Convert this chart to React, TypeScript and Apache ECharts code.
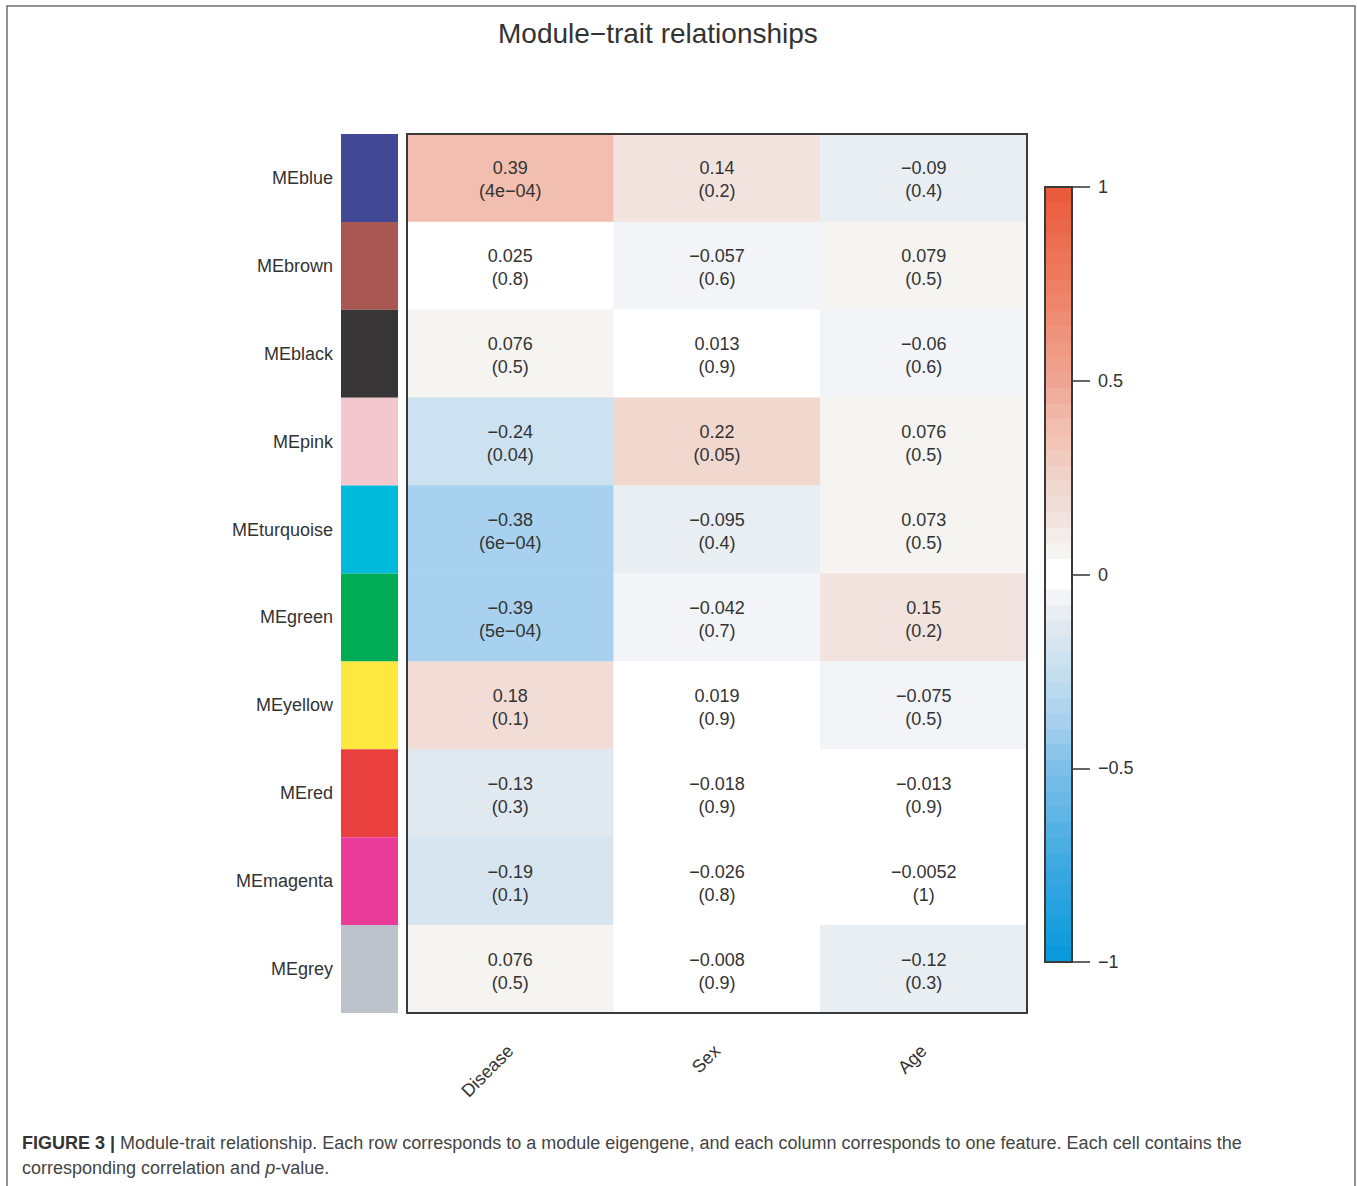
import React, { useEffect, useRef } from "react";
import * as echarts from "echarts";

// Module eigengenes (rows, top to bottom) and their module colours
const modules = ["MEblue", "MEbrown", "MEblack", "MEpink", "MEturquoise", "MEgreen", "MEyellow", "MEred", "MEmagenta", "MEgrey"];
const moduleColors = ["#414996", "#A85752", "#373536", "#F2C8CE", "#00BADB", "#00AC55", "#FDE83F", "#E9403F", "#E93B97", "#BEC2CA"];

// Traits (columns)
const traits = ["Disease", "Sex", "Age"];

// Correlation of each module eigengene with each trait
const corDisease = [0.39, 0.025, 0.076, -0.24, -0.38, -0.39, 0.18, -0.13, -0.19, 0.076];
const corSex = [0.14, -0.057, 0.013, 0.22, -0.095, -0.042, 0.019, -0.018, -0.026, -0.008];
const corAge = [-0.09, 0.079, -0.06, 0.076, 0.073, 0.15, -0.075, -0.013, -0.0052, -0.12];

// p-values, as printed
const pDisease = ["4e−04", "0.8", "0.5", "0.04", "6e−04", "5e−04", "0.1", "0.3", "0.1", "0.5"];
const pSex = ["0.2", "0.6", "0.9", "0.05", "0.4", "0.7", "0.9", "0.9", "0.8", "0.9"];
const pAge = ["0.4", "0.5", "0.6", "0.5", "0.5", "0.2", "0.5", "0.9", "1", "0.3"];

// Colour-key range and ticks
const scaleMin = -1;
const scaleMax = 1;
const scaleStep = 0.5;
const binCount = 50;

// Blue-white-red key: anchor colours by bin distance from zero (1 = nearest)
const negAnchors: [number, string][] = [
  [1, "#FFFFFF"], [2, "#F2F4F8"], [3, "#E8EEF2"], [4, "#E0E8F0"], [5, "#D6E5F0"],
  [6, "#CDE2F0"], [10, "#A7D1EF"], [13, "#7DBFEA"], [19, "#40AAE2"], [25, "#0A9ADB"],
];
const posAnchors: [number, string][] = [
  [1, "#FFFFFF"], [2, "#F5F4F0"], [3, "#F4ECE8"], [4, "#F2E3DF"], [5, "#F2DDD6"],
  [6, "#F1D8CF"], [10, "#F2BEAF"], [13, "#F0A593"], [19, "#EE8064"], [25, "#EA5B3B"],
];

const FONT = "'Liberation Sans', Arial, Helvetica, sans-serif";
const INK = "#333333";

function hexToRgb(h: string) {
  const n = parseInt(h.slice(1), 16);
  return [(n >> 16) & 255, (n >> 8) & 255, n & 255];
}

function rampColor(anchors: [number, string][], k: number) {
  for (let i = 0; i < anchors.length - 1; i++) {
    const [k0, c0] = anchors[i];
    const [k1, c1] = anchors[i + 1];
    if (k >= k0 && k <= k1) {
      const t = k1 === k0 ? 0 : (k - k0) / (k1 - k0);
      const a = hexToRgb(c0);
      const b = hexToRgb(c1);
      const m = a.map((v, j) => Math.round(v + (b[j] - v) * t));
      return `rgb(${m[0]},${m[1]},${m[2]})`;
    }
  }
  return anchors[anchors.length - 1][1];
}

const round2 = (v: number) => Math.round(v * 100) / 100;
const minus = (s: string) => s.replace(/-/g, "−");

function buildPieces() {
  const w = (scaleMax - scaleMin) / binCount;
  const pieces: any[] = [];
  for (let i = 0; i < binCount; i++) {
    const lo = round2(scaleMin + w * i);
    const hi = round2(lo + w);
    const color = lo < 0 ? rampColor(negAnchors, Math.round(-lo / w)) : rampColor(posAnchors, Math.round(hi / w));
    pieces.push(i < binCount - 1 ? { gte: lo, lt: hi, color } : { gte: lo, lte: hi, color });
  }
  return pieces;
}

export default function App() {
  const ref = useRef<HTMLDivElement>(null);

  useEffect(() => {
    if (!ref.current) return;
    const chart = echarts.init(ref.current, null, { renderer: "svg" });

    const cors = [corDisease, corSex, corAge];
    const ps = [pDisease, pSex, pAge];
    const cells: any[] = [];
    traits.forEach((_, x) => {
      modules.forEach((_, y) => {
        cells.push({ value: [x, y, cors[x][y]], p: ps[x][y] });
      });
    });

    const hm = { left: 407, top: 134, width: 620, height: 879 };
    const key = { left: 1045, top: 187, width: 27, height: 775 };
    // key swatches overlap by half a pixel so no seams show between them
    const overlap = 0.5;

    chart.setOption({
      animation: false,
      backgroundColor: "#ffffff",
      title: {
        text: "Module−trait relationships",
        left: 493,
        top: 14,
        textStyle: { fontFamily: FONT, fontSize: 28, fontWeight: "normal", color: INK },
      },
      grid: [
        { ...hm },
        { left: 341, top: hm.top, width: 57, height: hm.height },
        { ...key },
      ],
      xAxis: [
        {
          type: "category",
          gridIndex: 0,
          data: traits,
          axisLine: { show: false },
          axisTick: { show: false },
          splitLine: { show: false },
          axisLabel: { rotate: 45, margin: 35, fontSize: 18, fontFamily: FONT, color: INK },
        },
        { type: "value", gridIndex: 1, min: 0, max: 1, show: false },
        { type: "value", gridIndex: 2, min: 0, max: 1, show: false },
      ],
      yAxis: [
        { type: "category", gridIndex: 0, data: modules, inverse: true, show: false },
        {
          type: "category",
          gridIndex: 1,
          data: modules,
          inverse: true,
          axisLine: { show: false },
          axisTick: { show: false },
          axisLabel: { margin: 8, fontSize: 18, fontFamily: FONT, color: INK, lineHeight: 26, verticalAlign: "middle", padding: [4, 0, 0, 0] },
        },
        {
          type: "value",
          gridIndex: 2,
          position: "right",
          min: scaleMin,
          max: scaleMax,
          interval: scaleStep,
          splitLine: { show: false },
          axisLine: { show: true, onZero: false, lineStyle: { color: INK, width: 1.5 } },
          axisTick: { show: true, inside: false, length: 18, lineStyle: { color: INK, width: 1.5 } },
          axisLabel: {
            margin: 26,
            fontSize: 18,
            fontFamily: FONT,
            color: INK,
            formatter: (v: number) => minus(String(v)),
          },
        },
      ],
      visualMap: {
        type: "piecewise",
        seriesIndex: 0,
        dimension: 2,
        orient: "vertical",
        left: key.left,
        top: key.top,
        padding: 0,
        itemGap: -overlap,
        itemWidth: key.width,
        itemHeight: (key.height + overlap * (binCount - 1)) / binCount,
        itemSymbol: "rect",
        showLabel: false,
        selectedMode: false,
        hoverLink: false,
        pieces: buildPieces(),
      },
      series: [
        {
          type: "heatmap",
          xAxisIndex: 0,
          yAxisIndex: 0,
          data: cells,
          emphasis: { disabled: true },
          label: {
            show: true,
            fontSize: 18,
            lineHeight: 23,
            fontFamily: FONT,
            color: INK,
            offset: [0, 2],
            formatter: (p: any) => `${minus(String(p.value[2]))}\n(${p.data.p})`,
          },
        },
        {
          type: "bar",
          xAxisIndex: 1,
          yAxisIndex: 1,
          barCategoryGap: "0%",
          silent: true,
          data: moduleColors.map((c) => ({ value: 1, itemStyle: { color: c } })),
        },
      ],
      graphic: [
        {
          type: "rect",
          z: 100,
          silent: true,
          shape: { x: 7, y: 6, width: 1348, height: 1260 },
          style: { fill: "none", stroke: "#6f6f6f", lineWidth: 1.5 },
        },
        {
          type: "rect",
          z: 100,
          silent: true,
          shape: { x: hm.left, y: hm.top, width: hm.width, height: hm.height },
          style: { fill: "none", stroke: "#3a3a3a", lineWidth: 2 },
        },
        {
          type: "rect",
          z: 100,
          silent: true,
          shape: { x: key.left, y: key.top, width: key.width, height: key.height },
          style: { fill: "none", stroke: "#3a3a3a", lineWidth: 2 },
        },
        {
          type: "text",
          z: 100,
          x: 22,
          y: 1143,
          style: {
            text: "{b|FIGURE 3 |}{n| Module-trait relationship. Each row corresponds to a module eigengene, and each column corresponds to one feature. Each cell contains the}",
            verticalAlign: "middle",
            rich: {
              b: { fontFamily: FONT, fontSize: 18, fontWeight: "bold", fill: INK },
              n: { fontFamily: FONT, fontSize: 18, fill: "#444" },
            },
          },
        },
        {
          type: "text",
          z: 100,
          x: 22,
          y: 1168,
          style: {
            text: "{n|corresponding correlation and }{i|p}{n|-value.}",
            verticalAlign: "middle",
            rich: {
              n: { fontFamily: FONT, fontSize: 18, fill: "#444" },
              i: { fontFamily: FONT, fontSize: 18, fontStyle: "italic", fill: "#444" },
            },
          },
        },
      ],
    });

    return () => chart.dispose();
  }, []);

  return (
    <div
      ref={ref}
      style={{ position: "absolute", left: 0, top: 0, width: 1357, height: 1186, overflow: "hidden" }}
    />
  );
}
